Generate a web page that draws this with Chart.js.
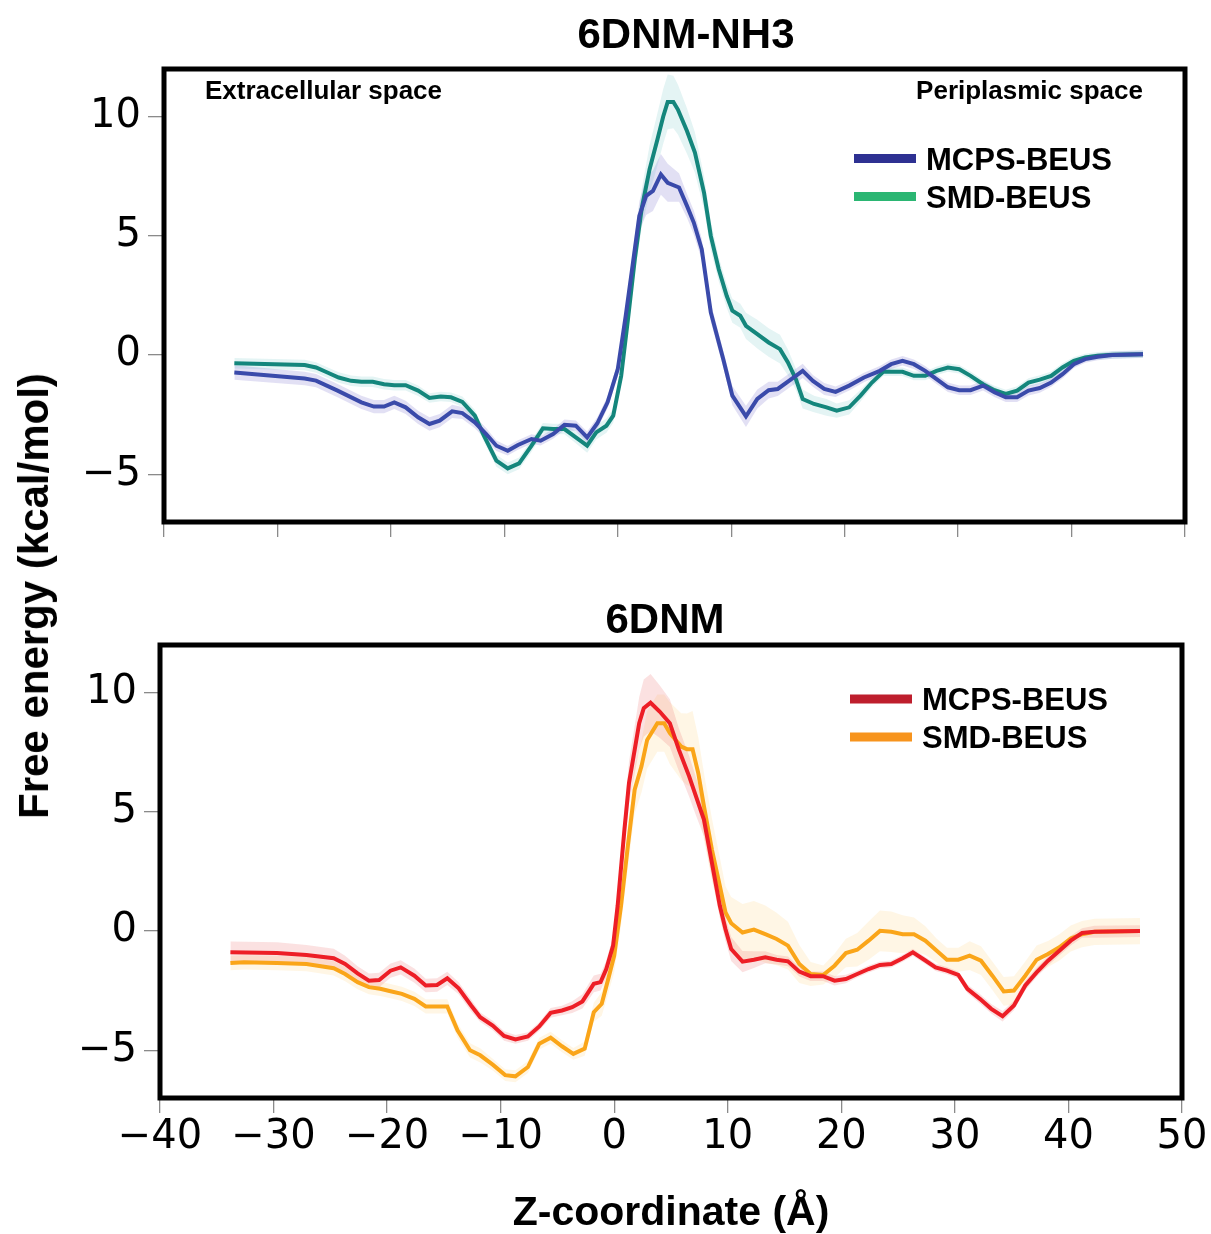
<!DOCTYPE html>
<html><head><meta charset="utf-8">
<script src="https://cdn.jsdelivr.net/npm/chart.js@4.4.0/dist/chart.umd.min.js"></script>
<style>
html,body{margin:0;padding:0;background:#fff;}
#wrap{position:relative;width:1211px;height:1234px;overflow:hidden;background:#fff;}
#c1{position:absolute;left:0;top:0;}
#c2{position:absolute;left:0;top:560px;}
#ylab{position:absolute;left:34px;top:596px;transform:translate(-50%,-50%) rotate(-90deg);font:bold 42px "Liberation Sans",Arial,sans-serif;white-space:nowrap;line-height:1;color:#000;}
</style></head><body>
<div id="wrap">
<canvas id="c1" width="1211" height="560"></canvas>
<canvas id="c2" width="1211" height="674"></canvas>
<div id="ylab">Free energy (kcal/mol)</div>
</div>
<script>
// ---------- tick labels / texts ----------
const xTicks = [-40,-30,-20,-10,0,10,20,30,40,50];
const yTicks = [-5,0,5,10];
const seriesNames = ['MCPS-BEUS','SMD-BEUS'];
const panelTitles = ['6DNM-NH3','6DNM'];
const regionLabels = ['Extracellular space','Periplasmic space'];
const xTitle = 'Z-coordinate (Å)';

// ---------- 6DNM-NH3 : MCPS-BEUS ----------
const nh3McpsX = [-33.8,-27.6,-26.6,-24.7,-22.6,-21.5,-20.6,-19.7,-18.7,-17.6,
 -16.6,-15.7,-14.6,-13.7,-12.6,-11.6,-10.7,-9.7,-8.8,-7.6,
 -6.8,-5.7,-4.7,-3.7,-2.7,-1.8,-0.9,0.0,0.7,1.3,
 1.9,2.5,3.1,3.8,4.4,5.4,6.1,6.7,7.4,8.2,
 9.3,10.1,11.3,12.3,13.3,14.1,15.3,16.3,17.2,18.2,
 19.2,20.4,21.7,23.1,24.1,25.1,26.1,27.1,28.1,29.1,
 30.1,31.1,32.2,33.2,34.2,35.2,36.2,37.2,38.2,39.2,
 40.2,41.2,42.3,43.6,46.3];
const nh3McpsY = [-0.73,-0.98,-1.07,-1.49,-1.98,-2.16,-2.16,-1.98,-2.19,-2.61,
 -2.89,-2.75,-2.36,-2.43,-2.82,-3.31,-3.80,-4.01,-3.77,-3.52,
 -3.59,-3.31,-2.92,-2.96,-3.45,-2.86,-1.98,-0.59,1.65,3.74,
 5.84,6.68,6.89,7.58,7.23,7.03,6.26,5.56,4.44,1.79,
 -0.17,-1.70,-2.57,-1.84,-1.47,-1.42,-1.01,-0.66,-1.08,-1.42,
 -1.54,-1.28,-0.94,-0.66,-0.38,-0.24,-0.38,-0.66,-1.01,-1.35,
 -1.47,-1.47,-1.28,-1.56,-1.77,-1.77,-1.49,-1.38,-1.15,-0.80,
 -0.38,-0.17,-0.07,0.00,0.04];
const nh3McpsErr = [0.3,0.28,0.28,0.28,0.28,0.28,0.28,0.28,0.28,0.28,
 0.28,0.28,0.28,0.25,0.25,0.25,0.22,0.2,0.2,0.2,
 0.2,0.2,0.22,0.22,0.25,0.25,0.25,0.3,0.4,0.5,
 0.6,0.8,0.85,0.85,0.8,0.6,0.5,0.5,0.45,0.4,
 0.35,0.4,0.45,0.4,0.35,0.3,0.3,0.3,0.25,0.25,
 0.22,0.2,0.2,0.2,0.2,0.2,0.2,0.2,0.2,0.2,
 0.2,0.2,0.2,0.2,0.2,0.2,0.2,0.2,0.18,0.18,
 0.16,0.15,0.15,0.15,0.15];

// ---------- 6DNM-NH3 : SMD-BEUS ----------
const nh3SmdX = [-33.8,-27.6,-26.6,-25.6,-24.6,-23.5,-22.6,-21.6,-20.6,-19.7,
 -18.7,-17.6,-16.6,-15.6,-14.7,-13.7,-12.6,-11.8,-10.7,-9.7,
 -8.7,-7.6,-6.6,-5.7,-4.7,-3.7,-2.7,-1.9,-1.0,-0.4,
 0.3,0.9,1.5,2.1,2.8,3.5,4.0,4.4,4.9,5.3,
 6.1,6.8,7.6,8.2,8.9,9.6,10.1,10.8,11.3,12.3,
 13.3,14.3,15.0,15.7,16.3,17.3,18.4,19.3,20.4,21.4,
 22.4,23.4,25.1,26.1,27.1,28.1,29.1,30.1,31.1,32.2,
 33.2,34.2,35.2,36.2,37.2,38.2,39.2,40.2,41.2,42.3,
 43.6,46.3];
const nh3SmdY = [-0.34,-0.42,-0.52,-0.73,-0.94,-1.08,-1.12,-1.12,-1.22,-1.26,
 -1.26,-1.49,-1.80,-1.74,-1.77,-1.96,-2.54,-3.38,-4.43,-4.75,
 -4.54,-3.80,-3.07,-3.10,-3.10,-3.45,-3.80,-3.24,-2.96,-2.54,
 -0.87,1.51,4.02,6.12,7.79,9.05,10.00,10.62,10.62,10.30,
 9.40,8.50,6.82,5.00,3.60,2.49,1.86,1.65,1.23,0.88,
 0.53,0.25,-0.31,-1.01,-1.84,-2.05,-2.19,-2.33,-2.19,-1.70,
 -1.15,-0.70,-0.70,-0.87,-0.87,-0.66,-0.52,-0.59,-0.87,-1.22,
 -1.47,-1.63,-1.49,-1.15,-1.03,-0.87,-0.52,-0.24,-0.10,-0.03,
 0.01,0.04];
const nh3SmdErr = [0.22,0.22,0.22,0.22,0.22,0.22,0.22,0.22,0.22,0.22,
 0.22,0.22,0.2,0.2,0.2,0.22,0.25,0.25,0.25,0.25,
 0.25,0.25,0.22,0.22,0.22,0.25,0.3,0.3,0.3,0.3,
 0.3,0.4,0.6,0.8,1.0,1.1,1.15,1.15,1.1,1.05,
 0.95,0.85,0.7,0.6,0.5,0.5,0.5,0.5,0.55,0.6,
 0.6,0.6,0.55,0.45,0.4,0.35,0.35,0.3,0.3,0.25,
 0.2,0.18,0.18,0.18,0.18,0.18,0.18,0.18,0.18,0.18,
 0.18,0.18,0.18,0.18,0.18,0.18,0.18,0.16,0.16,0.16,
 0.16,0.16];

// ---------- 6DNM : MCPS-BEUS ----------
const dnmMcpsX = [-33.8,-29.7,-27.1,-24.7,-23.7,-22.6,-21.6,-20.7,-19.7,-18.8,
 -17.6,-16.6,-15.6,-14.7,-13.7,-12.6,-11.8,-10.7,-9.7,-8.7,
 -7.6,-6.6,-5.6,-4.6,-3.7,-2.8,-1.8,-1.2,-0.7,-0.1,
 0.3,0.9,1.3,1.8,2.2,2.6,3.2,4.0,4.9,5.7,
 6.6,7.2,7.9,8.6,9.3,9.8,10.3,11.3,12.3,13.3,
 14.3,15.3,16.3,17.3,18.4,19.4,20.4,21.4,22.4,23.4,
 24.4,25.4,26.3,27.3,28.3,29.3,30.3,31.1,32.2,33.2,
 34.2,35.2,36.2,37.2,38.2,39.2,40.2,41.2,42.3,46.3];
const dnmMcpsY = [-0.89,-0.92,-1.00,-1.14,-1.38,-1.77,-2.08,-2.05,-1.66,-1.52,
 -1.87,-2.28,-2.26,-1.98,-2.40,-3.12,-3.61,-3.96,-4.40,-4.54,
 -4.42,-4.00,-3.43,-3.33,-3.19,-2.95,-2.21,-2.14,-1.59,-0.61,
 1.06,4.26,6.21,7.60,8.72,9.35,9.58,9.21,8.72,7.60,
 6.49,5.65,4.68,2.87,1.06,0.08,-0.75,-1.28,-1.20,-1.10,
 -1.20,-1.27,-1.70,-1.89,-1.89,-2.08,-2.01,-1.80,-1.59,-1.42,
 -1.38,-1.14,-0.89,-1.20,-1.52,-1.66,-1.84,-2.42,-2.84,-3.26,
 -3.57,-3.12,-2.28,-1.73,-1.24,-0.82,-0.40,-0.08,-0.03,0.00];
const dnmMcpsErr = [0.45,0.45,0.42,0.4,0.35,0.3,0.3,0.3,0.3,0.3,
 0.3,0.28,0.28,0.28,0.25,0.25,0.2,0.2,0.2,0.18,
 0.18,0.18,0.2,0.2,0.25,0.3,0.35,0.35,0.35,0.4,
 0.5,0.7,0.9,1.0,1.1,1.2,1.2,1.1,1.0,0.9,
 0.85,0.8,0.7,0.6,0.5,0.5,0.5,0.45,0.35,0.25,
 0.2,0.2,0.2,0.2,0.2,0.2,0.18,0.15,0.15,0.15,
 0.15,0.15,0.15,0.15,0.15,0.15,0.15,0.18,0.2,0.2,
 0.22,0.2,0.2,0.2,0.2,0.2,0.2,0.2,0.25,0.25];

// ---------- 6DNM : SMD-BEUS ----------
const dnmSmdX = [-33.8,-32.6,-29.7,-27.1,-24.7,-23.7,-22.6,-21.6,-20.6,-19.7,
 -18.7,-17.6,-16.6,-15.6,-14.7,-13.8,-12.7,-11.8,-10.7,-9.6,
 -8.7,-7.6,-6.6,-5.6,-4.6,-3.6,-2.6,-1.8,-1.1,-0.6,
 0.0,0.6,1.2,1.8,2.4,2.9,3.8,4.4,4.9,5.9,
 6.4,6.9,7.4,7.9,8.6,9.3,9.8,10.3,11.3,12.3,
 13.3,14.3,15.3,16.3,17.3,18.4,19.4,20.4,21.4,22.4,
 23.4,24.4,25.4,26.4,27.4,28.4,29.3,30.3,31.3,32.3,
 33.3,34.3,35.2,36.2,37.2,38.2,39.2,40.2,41.2,42.3,
 46.3];
const dnmSmdY = [-1.34,-1.31,-1.34,-1.38,-1.56,-1.80,-2.14,-2.35,-2.42,-2.52,
 -2.63,-2.84,-3.16,-3.16,-3.16,-4.16,-5.00,-5.21,-5.60,-6.04,
 -6.09,-5.70,-4.72,-4.47,-4.83,-5.15,-4.93,-3.40,-3.05,-2.14,
 -1.03,1.06,3.57,5.93,6.91,8.02,8.72,8.72,8.30,7.74,
 7.63,7.63,6.63,5.24,3.43,1.89,0.78,0.33,-0.06,0.06,
 -0.13,-0.33,-0.61,-1.38,-1.80,-1.84,-1.45,-0.92,-0.78,-0.40,
 0.01,-0.03,-0.13,-0.13,-0.40,-0.82,-1.20,-1.20,-1.03,-1.24,
 -1.87,-2.53,-2.49,-1.87,-1.20,-0.96,-0.68,-0.31,-0.13,-0.03,
 0.00];
const dnmSmdErr = [0.3,0.3,0.3,0.3,0.3,0.3,0.3,0.3,0.3,0.3,
 0.3,0.3,0.3,0.3,0.3,0.3,0.3,0.3,0.25,0.25,
 0.25,0.25,0.25,0.25,0.25,0.25,0.3,0.4,0.5,0.6,
 0.7,0.8,0.9,1.0,1.1,1.2,1.2,1.2,1.3,1.4,
 1.5,1.6,1.5,1.4,1.3,1.2,1.1,1.1,1.2,1.2,
 1.2,1.1,1.0,0.8,0.5,0.4,0.5,0.6,0.7,0.8,
 0.85,0.85,0.8,0.7,0.6,0.5,0.5,0.5,0.6,0.6,
 0.6,0.6,0.6,0.6,0.6,0.55,0.55,0.55,0.55,0.55,
 0.55];

// ---------- helpers ----------
const SANS = '"Liberation Sans", Arial, Helvetica, sans-serif';
const TICKF = '"DejaVu Sans", sans-serif';
const fmt = v => String(v).replace('-', '\u2212');
function pts(xs, ys, err, sign){ return xs.map((x,i)=>({x:x, y: ys[i] + (err ? sign*err[i] : 0)})); }

const decoPlugin = {
  id: 'deco',
  afterDatasetsDraw(chart, args, opts){
    const ctx = chart.ctx, a = chart.chartArea;
    ctx.save();
    ctx.lineWidth = 5; ctx.strokeStyle = '#000';
    ctx.strokeRect(a.left, a.top, a.right - a.left, a.bottom - a.top);
    // panel title
    ctx.font = 'bold 42px ' + SANS;
    ctx.fillStyle = '#000'; ctx.textAlign = 'center'; ctx.textBaseline = 'alphabetic';
    ctx.fillText(opts.title, opts.titleX, a.top - opts.titleAbove);
    // legend
    ctx.font = 'bold 31px ' + SANS;
    ctx.textAlign = 'left';
    (opts.items || []).forEach((it, i) => {
      const cy = a.top + opts.legendTop + i * opts.legendGap;
      ctx.fillStyle = it.color;
      ctx.fillRect(a.right - opts.swatchRight, cy - 4.5, 62, 9);
      ctx.fillStyle = '#000';
      ctx.fillText(it.label, a.right - opts.textRight, cy + 11);
    });
    if (opts.regions) {
      ctx.font = 'bold 26px ' + SANS;
      ctx.fillStyle = '#000';
      ctx.textAlign = 'left';
      ctx.fillText(opts.regions[0], a.left + 41, a.top + 30);
      ctx.textAlign = 'right';
      ctx.fillText(opts.regions[1], a.right - 42, a.top + 30);
    }
    ctx.restore();
  }
};

function makeChart(cfg){
  const datasets = [];
  cfg.series.forEach(s => {
    datasets.push({label: s.label, data: pts(s.x, s.y), borderColor: s.line, backgroundColor: s.line,
      borderWidth: 4, pointRadius: 0, fill: false, tension: 0});
  });
  cfg.series.forEach(s => {
    datasets.push({label: s.label + ' upper', data: pts(s.x, s.y, s.err, 1), borderWidth: 0,
      borderColor: 'rgba(0,0,0,0)', pointRadius: 0, fill: false, tension: 0});
    datasets.push({label: s.label + ' lower', data: pts(s.x, s.y, s.err, -1), borderWidth: 0,
      borderColor: 'rgba(0,0,0,0)', backgroundColor: s.band, pointRadius: 0, fill: '-1', tension: 0});
  });
  const gridOpts = {drawOnChartArea: false, drawTicks: true, tickLength: 16, color: '#8a8a8a', lineWidth: 1.3};
  return new Chart(document.getElementById(cfg.canvas), {
    type: 'line',
    data: {datasets},
    plugins: [decoPlugin],
    options: {
      responsive: false, animation: false, devicePixelRatio: 1,
      layout: {padding: {left: 0, right: cfg.padRight, top: cfg.padTop, bottom: 0}},
      plugins: {
        legend: {display: false}, tooltip: {enabled: false}, title: {display: false},
        deco: {title: cfg.title, titleX: cfg.titleX, titleAbove: cfg.titleAbove,
          items: cfg.series.map(s => ({label: s.label, color: s.legend})),
          legendTop: cfg.legendTop, legendGap: 38, swatchRight: cfg.swatchRight, textRight: cfg.textRight,
          regions: cfg.regions}
      },
      scales: {
        x: {type: 'linear', min: -40, max: 50,
          afterBuildTicks: s => { s.ticks = xTicks.map(v => ({value: v})); },
          afterFit: s => { s.height = cfg.xAxisH; },
          ticks: {display: cfg.showX, autoSkip: false, maxRotation: 0, color: '#000', padding: 1,
            font: {family: TICKF, size: 40}, callback: v => fmt(v)},
          grid: Object.assign({}, gridOpts, {tickLength: 15}),
          border: {display: false},
          title: {display: cfg.showX, text: xTitle, color: '#000', padding: 0,
            font: {family: SANS, size: 41, weight: 'bold', lineHeight: 1.0}}
        },
        y: {type: 'linear', min: -7, max: 12,
          afterBuildTicks: s => { s.ticks = yTicks.map(v => ({value: v})); },
          afterFit: s => { s.width = cfg.yAxisW; },
          ticks: {color: '#000', padding: 7, font: {family: TICKF, size: 40}, callback: v => fmt(v)},
          grid: gridOpts,
          border: {display: false}
        }
      }
    }
  });
}

makeChart({canvas: 'c1', title: panelTitles[0], titleX: 686, titleAbove: 21, padTop: 69, padRight: 26,
  xAxisH: 38, yAxisW: 164, showX: false, legendTop: 89.5, swatchRight: 331, textRight: 259,
  regions: regionLabels,
  series: [
    {label: seriesNames[0], x: nh3McpsX, y: nh3McpsY, err: nh3McpsErr,
      line: 'rgb(58,74,170)', band: 'rgba(125,115,205,0.22)', legend: 'rgb(46,49,146)'},
    {label: seriesNames[1], x: nh3SmdX, y: nh3SmdY, err: nh3SmdErr,
      line: 'rgb(20,134,124)', band: 'rgba(120,200,200,0.2)', legend: 'rgb(43,182,115)'}
  ]});

makeChart({canvas: 'c2', title: panelTitles[1], titleX: 665, titleAbove: 12, padTop: 85, padRight: 29,
  xAxisH: 136, yAxisW: 160, showX: true, legendTop: 54, swatchRight: 332, textRight: 260,
  regions: null,
  series: [
    {label: seriesNames[0], x: dnmMcpsX, y: dnmMcpsY, err: dnmMcpsErr,
      line: 'rgb(237,30,38)', band: 'rgba(235,90,90,0.18)', legend: 'rgb(190,30,45)'},
    {label: seriesNames[1], x: dnmSmdX, y: dnmSmdY, err: dnmSmdErr,
      line: 'rgb(250,165,25)', band: 'rgba(255,205,110,0.18)', legend: 'rgb(247,148,29)'}
  ]});
</script>
</body></html>
